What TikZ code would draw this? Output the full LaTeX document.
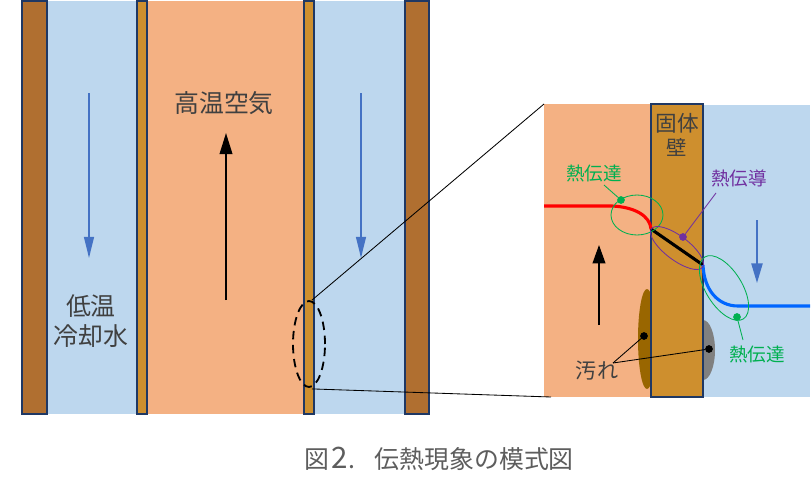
\documentclass[tikz,border=0pt]{standalone}
\usepackage{fontspec}
\usepackage{tikz}
\usetikzlibrary{arrows.meta, positioning, shapes.geometric}
\setmainfont{Noto Sans CJK JP}
\definecolor{hotair}{HTML}{F4B183}
\definecolor{coolwater}{HTML}{BDD7EE}
\definecolor{wallthin}{HTML}{CE8F2E}
\definecolor{wallthick}{HTML}{B06F30}
\definecolor{wallline}{HTML}{1F3864}
\definecolor{flowblue}{HTML}{4472C4}
\definecolor{labelgray}{HTML}{404040}
\definecolor{heatgreen}{HTML}{00B050}
\definecolor{heatpurple}{HTML}{7030A0}
\definecolor{dirtbrown}{HTML}{996600}
\definecolor{coldline}{HTML}{0066FF}

\begin{document}
\begin{tikzpicture}[
    x=0.025cm, y=-0.025cm,
    wall/.style={draw=wallline, line width=1.9pt, fill=wallthin},
    textlabel/.style={text=labelgray, font=\fontsize{17.7}{22}\selectfont, align=center, inner sep=0pt},
    heatlabel/.style={font=\fontsize{13.2}{16}\selectfont, inner sep=0pt},
    flowblack/.style={-{Triangle[length=15pt,width=9pt]}, line width=1.2pt, black},
    flowbluearrow/.style={-{Triangle[length=15pt,width=7pt]}, line width=1.2pt, flowblue},
    spot/.style={circle, fill=#1, inner sep=0pt, minimum size=5.5pt},
    heatring/.style={ellipse, draw=#1, line width=0.6pt, inner sep=0pt, outer sep=0pt}
]
    \useasboundingbox (0,0) rectangle (812,487);

    % main channel
    \fill[coolwater] (47,1) rectangle (137,414);
    \fill[hotair] (147,1) rectangle (304,414);
    \fill[coolwater] (314,1) rectangle (405,414);
    \draw[wall, fill=wallthick] (22,1) rectangle (47,414);
    \draw[wall] (137,1) rectangle (147,414);
    \draw[wall] (304,1) rectangle (314,414);
    \draw[wall, fill=wallthick] (405,1) rectangle (429,414);

    \node[textlabel] (water) at (91,321) {低温\\[-1pt]冷却水};
    \node[textlabel] (air) at (224,103) {高温空気};

    \coordinate (airlow) at (226,300);
    \coordinate (airhigh) at (226,133);
    \coordinate (waterltop) at (89,93);
    \coordinate (waterlend) at (89,258);
    \coordinate (waterrtop) at (361,93);
    \coordinate (waterrend) at (361,258);
    \draw[flowblack] (airlow) -- (airhigh);
    \draw[flowbluearrow] (waterltop) -- (waterlend);
    \draw[flowbluearrow] (waterrtop) -- (waterrend);

    % close-up of the wall
    \fill[hotair] (544,104) rectangle (651,397);
    \fill[coolwater] (703,105) rectangle (810,397);
    \node[ellipse, fill=dirtbrown, minimum width=18*0.025cm, minimum height=100*0.025cm, inner sep=0pt] (dirtl) at (647,339) {};
    \node[ellipse, fill=gray, minimum width=24*0.025cm, minimum height=60*0.025cm, inner sep=0pt] (dirtr) at (703,350) {};
    \draw[wall] (651,104) rectangle (703,397);

    \node[textlabel, font=\fontsize{15.4}{18}\selectfont] (solid) at (677,123) {固体};
    \node[textlabel, font=\fontsize{14.5}{18}\selectfont] (wallname) at (677,147) {壁};

    \coordinate (redstart) at (544,206);
    \coordinate (redbend) at (612,206);
    \coordinate (wallhot) at (651,229);
    \coordinate (wallcold) at (703,265);
    \coordinate (bluebend) at (738,306);
    \coordinate (blueend) at (810,306);
    \draw[red, line width=2.2pt] (redstart) -- (redbend) .. controls (635,207) and (650,216) .. (wallhot);
    \draw[black, line width=2.2pt] (wallhot) -- (wallcold);
    \draw[coldline, line width=2.2pt] (wallcold) .. controls (704,290) and (718,306) .. (bluebend) -- (blueend);

    \node[heatring=heatgreen, minimum width=52*0.025cm, minimum height=40*0.025cm] (ringhot) at (637,215) {};
    \node[heatring=heatpurple, minimum width=64*0.025cm, minimum height=24*0.025cm, rotate=-37] (ringwall) at (677,248) {};
    \node[heatring=heatgreen, minimum width=73*0.025cm, minimum height=36*0.025cm, rotate=-58] (ringcold) at (724,288) {};

    \node[spot=heatgreen] (dothot) at (621,200) {};
    \node[spot=heatpurple] (dotwall) at (683,237) {};
    \node[spot=heatgreen] (dotcold) at (737,317) {};
    \node[spot=black] (dotl) at (644,336) {};
    \node[spot=black] (dotr) at (709,349) {};

    \node[heatlabel, text=heatgreen] (hothead) at (594,173) {熱伝達};
    \node[heatlabel, text=heatpurple] (wallhead) at (739,178) {熱伝導};
    \node[heatlabel, text=heatgreen] (coldhead) at (757,354) {熱伝達};
    \node[textlabel, font=\fontsize{15}{18}\selectfont] (dirt) at (597,371) {汚れ};

    \coordinate (hottail) at (604,185);
    \coordinate (walltail) at (716,193);
    \coordinate (coldtail) at (743,340);
    \coordinate (dirttail) at (613,363);
    \draw[heatgreen, line width=0.6pt] (hottail) -- (dothot);
    \draw[heatpurple, line width=0.6pt] (walltail) -- (dotwall);
    \draw[heatgreen, line width=0.6pt] (coldtail) -- (dotcold);
    \draw[black, line width=0.6pt] (dirttail) -- (dotl);
    \draw[black, line width=0.6pt] (dirttail) -- (dotr);

    \coordinate (insethotlow) at (599,325);
    \coordinate (insethothigh) at (599,245);
    \coordinate (insetcoldtop) at (757,220);
    \coordinate (insetcoldend) at (757,283);
    \draw[flowblack, -{Triangle[length=13pt,width=9pt]}] (insethotlow) -- (insethothigh);
    \draw[flowbluearrow, -{Triangle[length=14pt,width=8pt]}] (insetcoldtop) -- (insetcoldend);

    % dashed ring and lead lines to the close-up
    \node[ellipse, draw=black, dash pattern=on 6pt off 4pt, line width=1.3pt, minimum width=32*0.025cm, minimum height=86*0.025cm, inner sep=0pt] (ring) at (309,344) {};
    \coordinate (leadtop) at (544,104);
    \coordinate (leadbot) at (551,397);
    \draw[black, line width=0.6pt] (ring.north) ++(3,0) -- (leadtop);
    \draw[black, line width=0.6pt] (ring.south) ++(3,1) -- (leadbot);

    \node[textlabel, text=labelgray!85] (caption) at (439,459) {図\kern2pt{\fontsize{21}{22}\selectfont 2}.\hspace{14pt}伝熱現象の模式図};
\end{tikzpicture}
\end{document}
